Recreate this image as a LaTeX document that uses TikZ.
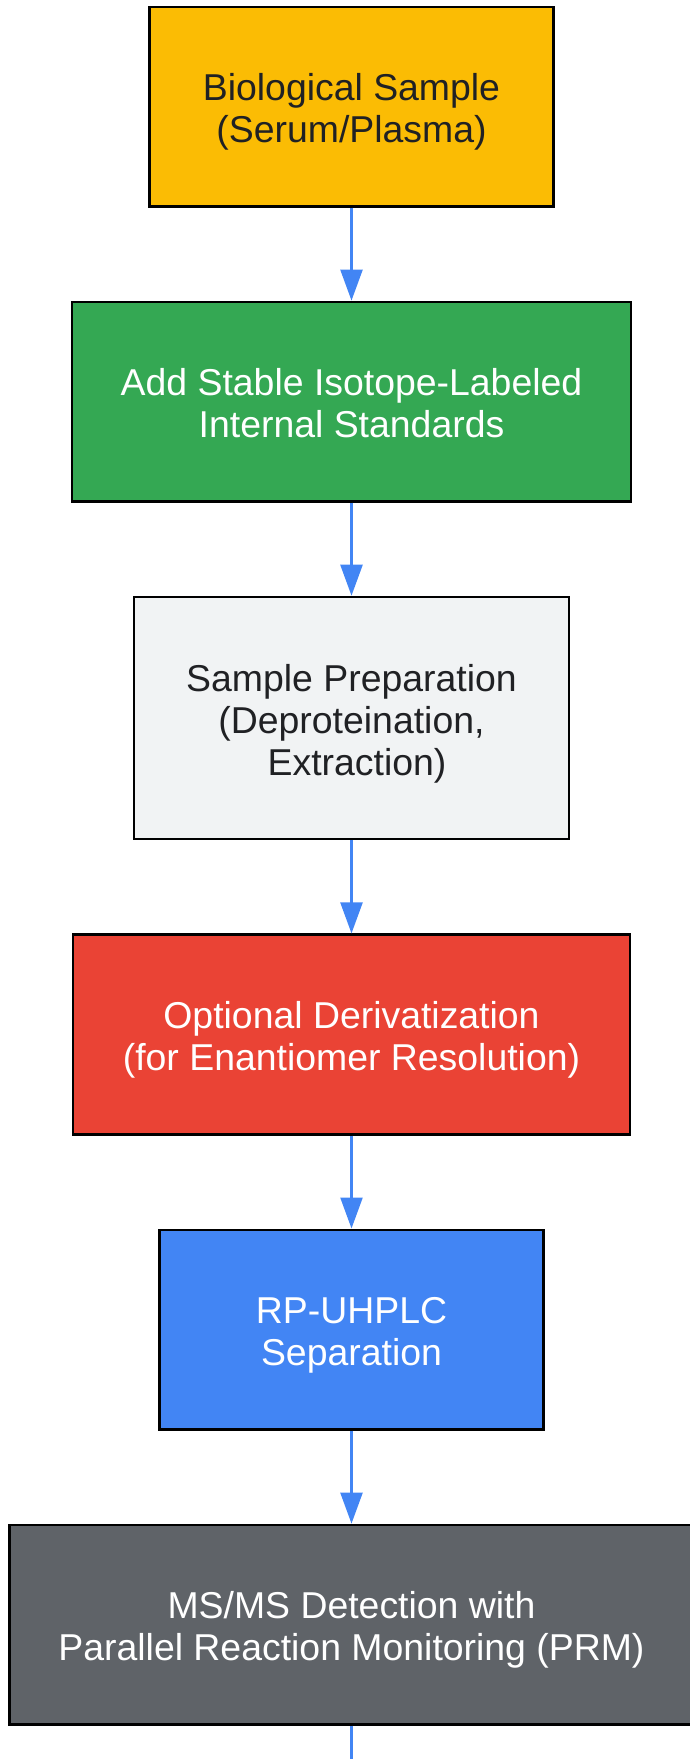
\documentclass[tikz,border=0pt]{standalone}
\usepackage{fontspec}
\setmainfont{Liberation Sans}
\usetikzlibrary{arrows.meta}
\usetikzlibrary{positioning}
\definecolor{sample yellow}{HTML}{FBBC04}
\definecolor{standards green}{HTML}{34A853}
\definecolor{prep gray}{HTML}{F1F3F4}
\definecolor{deriv red}{HTML}{EA4335}
\definecolor{flow blue}{HTML}{4285F4}
\definecolor{detect gray}{HTML}{5F6368}
\definecolor{dark text}{HTML}{202124}
\newcommand{\topstrut}{\rule{0pt}{43pt}}
\tikzset{
	every node/.style={align=center},
	%
	block/.style={
		draw=black, line width=2.4pt, inner sep=0pt, minimum height=199.7pt,
		font=\fontsize{37.4}{42}\selectfont},
	dark block/.style={block, text=dark text},
	light block/.style={block, text=white},
	%
	flow/.style={-{Triangle[length=31pt, width=22pt]}, line width=2.4pt, flow blue},
}

\begin{document}
\begin{tikzpicture}[node distance=93pt]
	\useasboundingbox (0,0) rectangle (689pt,-1759pt);
	\node (sample) [dark block, fill=sample yellow, minimum width=404pt, anchor=north]
		at (351.5pt,-5.5pt) {\topstrut Biological Sample\\\strut (Serum/Plasma)};
	\node (standards) [light block, fill=standards green, minimum width=558.8pt, below=of sample]
		{\topstrut Add Stable Isotope-Labeled\\\strut Internal Standards};
	\node (prep) [dark block, fill=prep gray, minimum width=435.4pt, minimum height=242.3pt,
			below=of standards]
		{\topstrut Sample Preparation\\(Deproteination,\\\strut\hspace*{11pt}Extraction)};
	\node (deriv) [light block, fill=deriv red, minimum width=556.6pt, below=of prep]
		{\topstrut Optional Derivatization\\\strut (for Enantiomer Resolution)};
	\node (uhplc) [light block, fill=flow blue, minimum width=383.7pt, below=of deriv]
		{\topstrut RP-UHPLC\\\strut Separation};
	\node (detection) [light block, fill=detect gray, minimum width=684.4pt, below=of uhplc]
		{\topstrut MS/MS Detection with\\\strut Parallel Reaction Monitoring (PRM)};
	\coordinate (next) at (351.5pt,-1765pt);
	%
	\draw [flow] (sample) -- (standards);
	\draw [flow] (standards) -- (prep);
	\draw [flow] (prep) -- (deriv);
	\draw [flow] (deriv) -- (uhplc);
	\draw [flow] (uhplc) -- (detection);
	\draw [flow, -] (detection) -- (next);
\end{tikzpicture}
\end{document}
